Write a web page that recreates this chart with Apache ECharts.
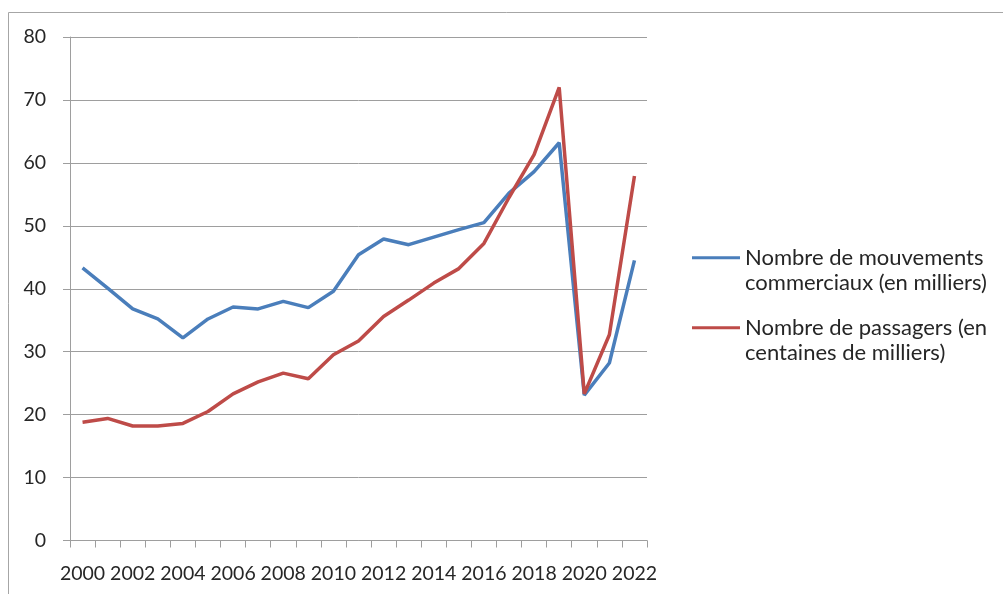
<!DOCTYPE html>
<html>
<head>
<meta charset="utf-8">
<script src="https://cdn.jsdelivr.net/npm/echarts@6/dist/echarts.min.js"></script>
<style>
html,body{margin:0;padding:0;background:#fff;}
#chart{width:1003px;height:594px;}
</style>
</head>
<body>
<div id="chart"></div>
<script>
// Data
var years = ['2000','2001','2002','2003','2004','2005','2006','2007','2008','2009','2010','2011','2012','2013','2014','2015','2016','2017','2018','2019','2020','2021','2022'];
var mouvements = [43.3, 40.1, 36.8, 35.2, 32.2, 35.2, 37.1, 36.8, 38.0, 37.0, 39.6, 45.4, 47.9, 47.0, 48.2, 49.4, 50.5, 55.2, 58.6, 63.2, 23.1, 28.2, 44.5];
var passagers = [18.8, 19.4, 18.2, 18.2, 18.6, 20.5, 23.3, 25.2, 26.6, 25.7, 29.5, 31.7, 35.6, 38.2, 40.9, 43.2, 47.2, 54.5, 61.3, 72.0, 23.3, 32.7, 57.9];
var seriesNames = ['Nombre de mouvements commerciaux (en milliers)', 'Nombre de passagers (en centaines de milliers)'];
var legendLines = [['Nombre de mouvements', 'commerciaux (en milliers)'], ['Nombre de passagers (en', 'centaines de milliers)']];
var yTicks = {min: 0, max: 80, interval: 10};

var FONT = 'Lato';
var TXT = '#262626';
var GRID = '#9e9e9e';
var LH = 25.5;

function legendFor(i, top) {
  return {
    data: [seriesNames[i]],
    left: 692,
    top: top,
    padding: 0,
    icon: 'rect',
    itemWidth: 48,
    itemHeight: 3,
    itemGap: 0,
    selectedMode: false,
    // leading blank line so the first text line sits level with the icon
    formatter: function () { return ' \n' + legendLines[i].join('\n'); },
    textStyle: {
      fontFamily: FONT,
      fontSize: 22,
      color: TXT,
      lineHeight: LH
    }
  };
}

var chart = echarts.init(document.getElementById('chart'), null, {renderer: 'canvas'});
chart.setOption({
  animation: false,
  backgroundColor: '#ffffff',
  graphic: [{
    type: 'rect',
    shape: {x: 8.5, y: 12.5, width: 1200, height: 800},
    style: {fill: 'none', stroke: '#a6a6a6', lineWidth: 1},
    silent: true
  }],
  grid: {left: 70, right: 356, top: 37, bottom: 53.5, containLabel: false},
  legend: [legendFor(0, 257.7 - 1.5 * LH), legendFor(1, 327.7 - 1.5 * LH)],
  xAxis: {
    type: 'category',
    data: years,
    boundaryGap: true,
    axisLine: {show: true, lineStyle: {color: GRID, width: 1}},
    axisTick: {show: true, interval: 0, length: 7, lineStyle: {color: GRID}},
    axisLabel: {interval: 1, margin: 23, fontFamily: FONT, fontSize: 19.5, color: TXT},
    splitLine: {show: false}
  },
  yAxis: {
    type: 'value',
    min: yTicks.min,
    max: yTicks.max,
    interval: yTicks.interval,
    axisLine: {show: true, lineStyle: {color: GRID, width: 1}},
    axisTick: {show: true, length: 7, lineStyle: {color: GRID}},
    axisLabel: {margin: 24, fontFamily: FONT, fontSize: 19.5, color: TXT},
    splitLine: {show: true, lineStyle: {color: GRID, width: 1}}
  },
  series: [{
    name: seriesNames[0],
    type: 'line',
    data: mouvements,
    symbol: 'none',
    smooth: false,
    lineStyle: {color: '#4a7ebb', width: 3.5},
    itemStyle: {color: '#4a7ebb'}
  }, {
    name: seriesNames[1],
    type: 'line',
    data: passagers,
    symbol: 'none',
    smooth: false,
    lineStyle: {color: '#be4b48', width: 3.5},
    itemStyle: {color: '#be4b48'}
  }]
});
</script>
</body>
</html>
